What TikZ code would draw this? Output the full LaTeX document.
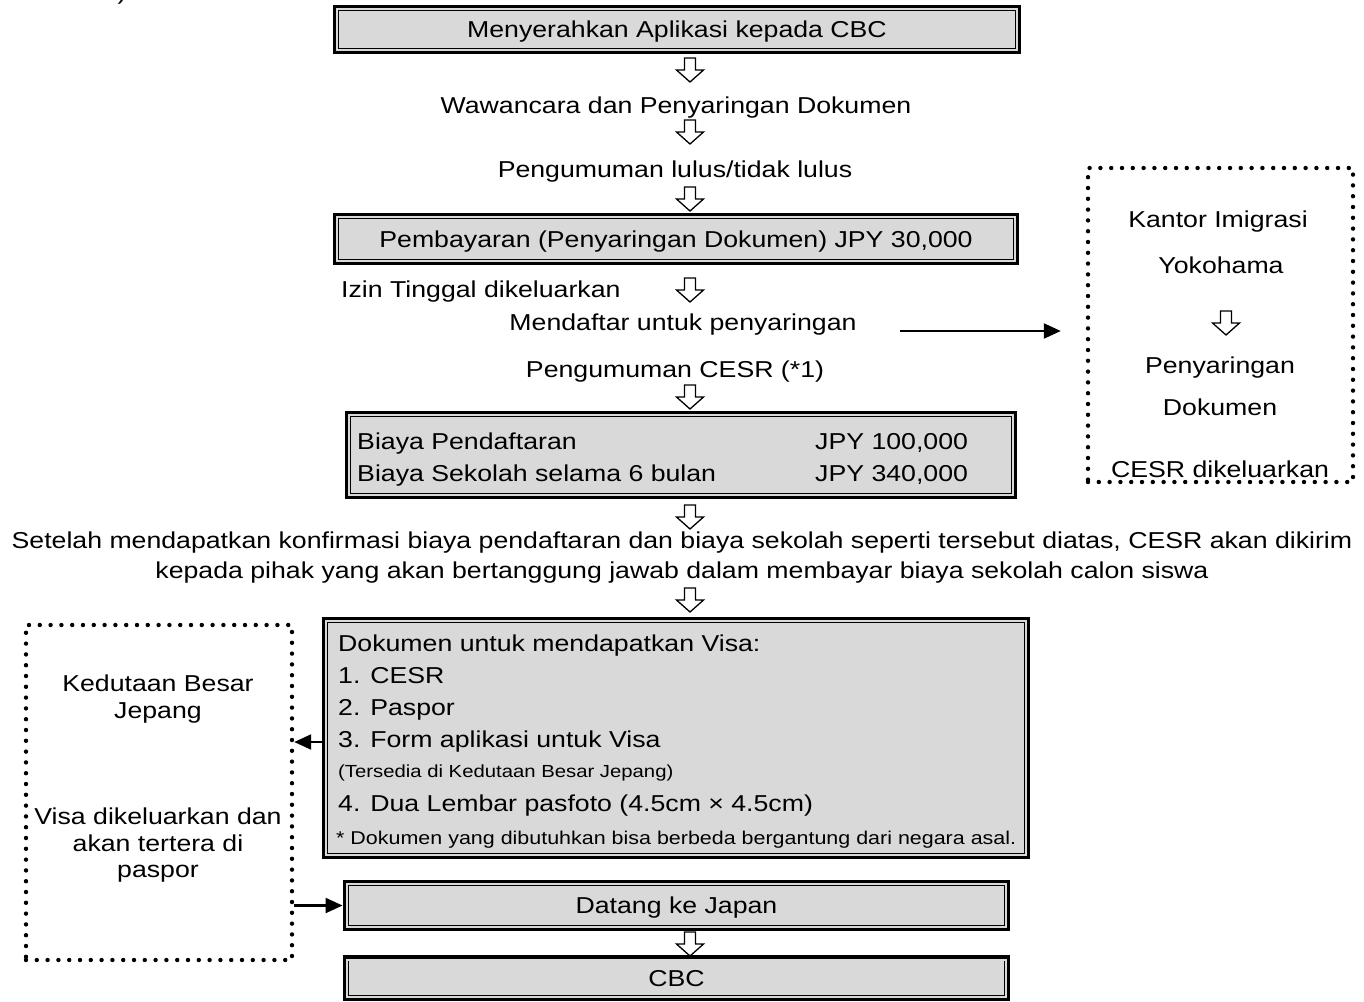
\documentclass[tikz,border=0pt]{standalone}
\usepackage{fontspec}
\setmainfont{Liberation Sans}[FakeStretch=1.16]
\usetikzlibrary{arrows.meta,calc,positioning}
\definecolor{BoxGray}{HTML}{D9D9D9}
\tikzset{stagebox/.style={draw=black,fill=BoxGray,line width=.9pt,double=BoxGray,double distance=2pt,preaction={draw=black,line width=8.5pt},inner sep=0pt,align=center,text height=16.5pt,text depth=0pt},dotbox/.style={draw=black,line width=4.4pt,line cap=round,dash pattern=on 0pt off 10.8pt},pointer/.style={-{Triangle[length=17pt,width=15pt]},line width=2.2pt},linetext/.style={anchor=base,inner sep=0pt},leftline/.style={anchor=base west,inner sep=0pt},smalltext/.style={font=\fontsize{17.5}{20}\selectfont},hollowdown/.pic={\draw[line width=1.3pt,fill=white,miter limit=10](-5.5,0)--(5.5,0)--(5.5,12)--(13.5,12)--(0,24)--(-13.5,12)--(-5.5,12)--cycle;}}

\begin{document}
\begin{tikzpicture}[x=1pt,y=-1pt,font=\fontsize{23}{27}\selectfont]
        \useasboundingbox(0,0)rectangle(1364,1001);
        \node[linetext](cut)at(122,0){)};
        % main column
        \node[stagebox,minimum width=680pt,minimum height=41pt](apply)at(677,29.5){Menyerahkan Aplikasi kepada CBC};
        \pic at(690,58){hollowdown};
        \node[linetext](interview)at(676,113){Wawancara dan Penyaringan Dokumen};
        \pic at(690,120){hollowdown};
        \node[linetext](pass)at(675,177){Pengumuman lulus/tidak lulus};
        \pic at(690,187){hollowdown};
        \node[stagebox,minimum width=678pt,minimum height=44pt](pay)at(676,239){Pembayaran (Penyaringan Dokumen) JPY 30,000};
        \node[leftline](permit)at(341,297){Izin Tinggal dikeluarkan};
        \pic at(690,278){hollowdown};
        \node[linetext](reg)at(683,330){Mendaftar untuk penyaringan};
        \node[linetext](cesr)at(675,377){Pengumuman CESR (*1)};
        \pic at(690,385){hollowdown};
        \node[stagebox,minimum width=664pt,minimum height=80pt](fees)at(681,455){};
        \node[leftline](fee1)at(357,449){Biaya Pendaftaran};
        \node[leftline](fee2)at(357,481){Biaya Sekolah selama 6 bulan};
        \node[leftline](amt1)at(815,449){JPY 100,000};
        \node[leftline](amt2)at(815,481){JPY 340,000};
        \pic at(690,505){hollowdown};
        \node[linetext](note1)at(682,548){Setelah mendapatkan konfirmasi biaya pendaftaran dan biaya sekolah seperti tersebut diatas, CESR akan dikirim};
        \node[linetext](note2)at(682,578){kepada pihak yang akan bertanggung jawab dalam membayar biaya sekolah calon siswa};
        \pic at(690,588){hollowdown};
        \node[stagebox,minimum width=700pt,minimum height=234pt](docs)at(676,738){};
        \node[leftline](doc0)at(338,651){Dokumen untuk mendapatkan Visa:};
        \node[leftline](doc1)at(338,683){1. CESR};
        \node[leftline](doc2)at(338,715){2. Paspor};
        \node[leftline](doc3)at(338,747){3. Form aplikasi untuk Visa};
        \node[leftline,smalltext](doc3a)at(338,777){(Tersedia di Kedutaan Besar Jepang)};
        \node[leftline](doc4)at(338,811){4. Dua Lembar pasfoto (4.5cm × 4.5cm)};
        \node[leftline,font=\fontsize{18.5}{21}\selectfont](doc5)at(336,844){* Dokumen yang dibutuhkan bisa berbeda bergantung dari negara asal.};
        \node[stagebox,minimum width=659pt,minimum height=43pt](arrive)at(676.5,905.5){Datang ke Japan};
        \pic at(690,932){hollowdown};
        \node[stagebox,minimum width=659pt,minimum height=37pt](school)at(676.5,978){CBC};
        % immigration office
        \node[dotbox,minimum width=265pt,minimum height=314pt](imm)at(1220.5,325){};
        \node[linetext](imm1)at(1218,227){Kantor Imigrasi};
        \node[linetext](imm2)at(1221,273){Yokohama};
        \pic at(1226,311){hollowdown};
        \node[linetext](imm3)at(1220,373){Penyaringan};
        \node[linetext](imm4)at(1220,415){Dokumen};
        \node[linetext](imm5)at(1220,477){CESR dikeluarkan};
        \draw[pointer]($(reg.base east)+(43,1)$)--($(imm.west|-reg.base east)+(-25,1)$);
        % embassy
        \node[dotbox,minimum width=266pt,minimum height=335pt](emb)at(159,792.5){};
        \node[linetext](emb1)at(158,691){Kedutaan Besar};
        \node[linetext](emb2)at(158,718){Jepang};
        \node[linetext](emb3)at(158,824){Visa dikeluarkan dan};
        \node[linetext](emb4)at(158,851){akan tertera di};
        \node[linetext](emb5)at(158,877){paspor};
        \draw[pointer]($(docs.west)+(-4,4)$)--($(emb.east|-docs.west)+(0,4)$);
        \draw[pointer](emb.east|-arrive.west)--($(arrive.west)+(-4,0)$);
      \end{tikzpicture}
\end{document}
